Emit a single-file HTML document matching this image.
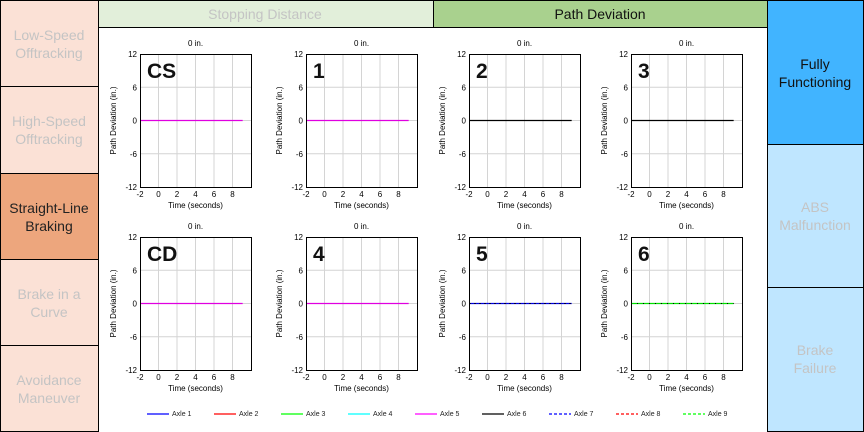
<!DOCTYPE html>
<html><head><meta charset="utf-8"><style>
body{margin:0;width:864px;height:432px;overflow:hidden;background:#fff;font-family:"Liberation Sans",sans-serif}
svg{display:block}
</style></head><body>
<svg id="s" width="864" height="432" xmlns="http://www.w3.org/2000/svg" font-family="Liberation Sans, sans-serif">
<g stroke="#000" stroke-width="1">
<rect x="0.5" y="0.5" width="98" height="86" fill="#fbe1d6"/>
<rect x="0.5" y="86.5" width="98" height="87" fill="#fbe1d6"/>
<rect x="0.5" y="173.5" width="98" height="86" fill="#eda67d"/>
<rect x="0.5" y="259.5" width="98" height="86" fill="#fbe1d6"/>
<rect x="0.5" y="345.5" width="98" height="86" fill="#fbe1d6"/>
<rect x="98.5" y="0.5" width="335" height="27" fill="#e2efda"/>
<rect x="433.5" y="0.5" width="334" height="27" fill="#a9d18e"/>
<rect x="767.5" y="0.5" width="96" height="144" fill="#41b4ff"/>
<rect x="767.5" y="144.5" width="96" height="143" fill="#bfe6ff"/>
<rect x="767.5" y="287.5" width="96" height="144" fill="#bfe6ff"/>
</g>
<g font-size="14" text-anchor="middle" fill="#c4c4c4">
<text x="49" y="40">Low-Speed</text><text x="49" y="58">Offtracking</text>
<text x="49" y="126">High-Speed</text><text x="49" y="144">Offtracking</text>
<text x="49" y="213" fill="#222">Straight-Line</text><text x="49" y="231" fill="#222">Braking</text>
<text x="49" y="299">Brake in a</text><text x="49" y="317">Curve</text>
<text x="49" y="385">Avoidance</text><text x="49" y="403">Maneuver</text>
<text x="265" y="19">Stopping Distance</text>
<text x="600" y="19" fill="#111">Path Deviation</text>
<text x="815" y="69" fill="#111">Fully</text><text x="815" y="87" fill="#111">Functioning</text>
<text x="815" y="212">ABS</text><text x="815" y="230">Malfunction</text>
<text x="815" y="355">Brake</text><text x="815" y="373">Failure</text>
</g>
<g id="plots"></g>
<g id="leg" font-size="7" fill="#222"></g>
</svg>
<script>
var P=document.getElementById('plots'),h='';
var lefts=[140,306,469,631],tops=[54,237],labels=[['CS','1','2','3'],['CD','4','5','6']];
var cols=[['#e000e0','#e000e0','#000','#000'],['#e000e0','#e000e0','#0000e0','#00e000']];
var W=111,H=133;
for(var r=0;r<2;r++)for(var c=0;c<4;c++){
 var x0=lefts[c],y0=tops[r];
 function X(v){return x0+(v+2)/12*W}
 function Y(v){return y0+(12-v)/24*H}
 for(var v=0;v<=8;v+=2)h+='<line x1="'+X(v)+'" y1="'+y0+'" x2="'+X(v)+'" y2="'+(y0+H)+'" stroke="#d4d4d4"/>';
 for(var v=-6;v<=6;v+=6)h+='<line x1="'+x0+'" y1="'+Y(v)+'" x2="'+(x0+W)+'" y2="'+Y(v)+'" stroke="#d4d4d4"/>';
 var col=cols[r][c];
 h+='<line x1="'+x0+'" y1="'+Y(0)+'" x2="'+X(9.1)+'" y2="'+Y(0)+'" stroke="'+col+'" stroke-width="1.2"/>';
 if(c==2&&r==1)h+='<line x1="'+x0+'" y1="'+Y(0)+'" x2="'+X(9.1)+'" y2="'+Y(0)+'" stroke="#000" stroke-dasharray="2,3" stroke-width="0.8"/>';
 if(c==3&&r==1)h+='<line x1="'+x0+'" y1="'+Y(0)+'" x2="'+X(9.1)+'" y2="'+Y(0)+'" stroke="#000" stroke-dasharray="1,5" stroke-width="1"/>';
 h+='<rect x="'+(x0+.5)+'" y="'+(y0+.5)+'" width="'+W+'" height="'+H+'" fill="none" stroke="#000"/>';
 h+='<text x="'+(x0+7)+'" y="'+(y0+24)+'" font-size="21" font-weight="bold" fill="#111">'+labels[r][c]+'</text>';
 h+='<text x="'+(x0+W/2)+'" y="'+(y0-8)+'" font-size="8" text-anchor="middle">0 in.</text>';
 [12,6,0,-6,-12].forEach(function(v){h+='<text x="'+(x0-3)+'" y="'+(Y(v)+3)+'" font-size="8" text-anchor="end">'+v+'</text>';});
 [-2,0,2,4,6,8].forEach(function(v){h+='<text x="'+X(v)+'" y="'+(y0+H+10)+'" font-size="8" text-anchor="middle">'+v+'</text>';});
 h+='<text x="'+(x0+W/2)+'" y="'+(y0+H+21)+'" font-size="8" text-anchor="middle">Time (seconds)</text>';
 h+='<text transform="translate('+(x0-24)+','+(y0+H/2)+') rotate(-90)" font-size="8" text-anchor="middle">Path Deviation (in.)</text>';
}
P.innerHTML=h;
var L=document.getElementById('leg'),g='';
var lc=['#00f','#f00','#0f0','#0ff','#f0f','#000','#00f','#f00','#0f0'];
for(var i=0;i<9;i++){var x=147+i*67;
 g+='<line x1="'+x+'" y1="414" x2="'+(x+22)+'" y2="414" stroke="'+lc[i]+'" stroke-width="1.2"'+(i>=6?' stroke-dasharray="3,2"':'')+'/>';
 g+='<text x="'+(x+25)+'" y="416">Axle '+(i+1)+'</text>';}
L.innerHTML=g;
</script>
</body></html>
